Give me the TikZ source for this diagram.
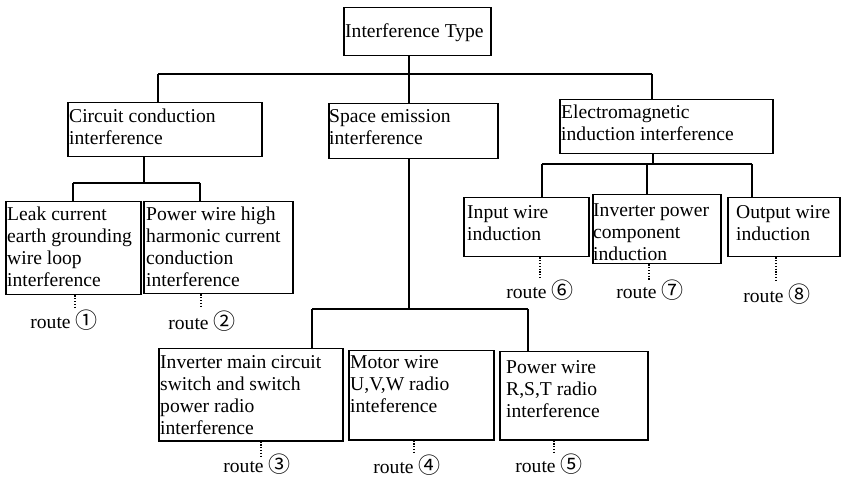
\documentclass[tikz,border=0pt]{standalone}
\usepackage{fontspec}
\setmainfont{Liberation Serif}
\newfontfamily\cjk{Noto Sans CJK SC}[Scale=1.0]
\newcommand\rt[1]{route\ {\cjk\fontsize{22}{22}\selectfont #1}}
\begin{document}
\begin{tikzpicture}[x=1pt,y=-1pt,
  bx/.style={draw, line width=1.5pt, inner sep=0pt, anchor=north west},
  tx/.style={inner sep=0pt, anchor=north west, align=left, font=\fontsize{19.6}{22}\selectfont},
  rtx/.style={inner sep=0pt, anchor=base, font=\fontsize{19.6}{22}\selectfont},
  ln/.style={line width=1.5pt},
  dl/.style={line width=1.3pt, dash pattern=on 1.2pt off 1.6pt}]
\useasboundingbox (0,0) rectangle (841,478);
% boxes
\node[bx, minimum width=147pt, minimum height=48pt] (it) at (343,7) {};
\node[bx, minimum width=194pt, minimum height=54pt] (cc) at (67,102) {};
\node[bx, minimum width=169pt, minimum height=55pt] (se) at (328,103) {};
\node[bx, minimum width=213pt, minimum height=54pt] (em) at (559,99) {};
\node[bx, minimum width=135pt, minimum height=93pt] (lk) at (5,201) {};
\node[bx, minimum width=149pt, minimum height=92pt] (pw) at (143,201) {};
\node[bx, minimum width=125pt, minimum height=59pt] (iw) at (463,197) {};
\node[bx, minimum width=128pt, minimum height=69pt] (ip) at (592,194) {};
\node[bx, minimum width=112pt, minimum height=59pt] (ow) at (727,197) {};
\node[bx, minimum width=184pt, minimum height=92pt] (im) at (158,348) {};
\node[bx, minimum width=145pt, minimum height=89pt] (mw) at (348,350) {};
\node[bx, minimum width=148pt, minimum height=88pt] (rs) at (499,351) {};
% texts
\node[tx] (it-t) at (345,21.8) {\strut Interference Type};
\node[tx] (cc-t) at (69,106.8) {\strut Circuit conduction\\interference};
\node[tx] (se-t) at (329,106.8) {\strut Space emission\\interference};
\node[tx] (em-t) at (561,102.8) {\strut Electromagnetic\\induction interference};
\node[tx] (lk-t) at (7,204.8) {\strut Leak current\\earth grounding\\wire loop\\interference};
\node[tx] (pw-t) at (146,204.8) {\strut Power wire high\\harmonic current\\conduction\\interference};
\node[tx] (iw-t) at (467,202.8) {\strut Input wire\\induction};
\node[tx] (ip-t) at (593,200.8) {\strut Inverter power\\component\\induction};
\node[tx] (ow-t) at (736,202.8) {\strut Output wire\\induction};
\node[tx] (im-t) at (160,352.8) {\strut Inverter main circuit\\switch and switch\\power radio\\interference};
\node[tx] (mw-t) at (350,352.8) {\strut Motor wire\\U,V,W radio\\inteference};
\node[tx] (rs-t) at (506,357.8) {\strut Power wire\\R,S,T radio\\interference};
% tree connectors
\coordinate (j0) at (409,74);
\coordinate (ja) at (158,74);
\coordinate (jb) at (652,74);
\draw[ln] (it.south -| j0) -- (j0);
\draw[ln] (ja) -- (jb);
\draw[ln] (ja) -- (ja |- cc.north);
\draw[ln] (j0) -- (j0 |- se.north);
\draw[ln] (jb) -- (jb |- em.north);
% circuit conduction children
\coordinate (c0) at (144,183);
\coordinate (c1) at (73,183);
\coordinate (c2) at (200,183);
\draw[ln] (cc.south -| c0) -- (c0);
\draw[ln] (c1) -- (c2);
\draw[ln] (c1) -- (c1 |- lk.north);
\draw[ln] (c2) -- (c2 |- pw.north);
% electromagnetic children
\coordinate (e0) at (653,164);
\coordinate (e1) at (542,164);
\coordinate (e2) at (647,164);
\coordinate (e3) at (752,164);
\draw[ln] (em.south -| e0) -- (e0);
\draw[ln] (e1) -- (e3);
\draw[ln] (e1) -- (e1 |- iw.north);
\draw[ln] (e2) -- (e2 |- ip.north);
\draw[ln] (e3) -- (e3 |- ow.north);
% space emission children
\coordinate (s0) at (409,309);
\coordinate (s1) at (312,309);
\coordinate (s2) at (528,309);
\draw[ln] (se.south -| s0) -- (s0);
\draw[ln] (s1) -- (s2);
\draw[ln] (s1) -- (s1 |- im.north);
\draw[ln] (s2) -- (s2 |- rs.north);
% routes
\node[rtx] (r1) at (64,329) {\rt{①}};
\node[rtx] (r2) at (202,330) {\rt{②}};
\node[rtx] (r3) at (257,472) {\rt{③}};
\node[rtx] (r4) at (407,473) {\rt{④}};
\node[rtx] (r5) at (549,472) {\rt{⑤}};
\node[rtx] (r6) at (540,299) {\rt{⑥}};
\node[rtx] (r7) at (650,299) {\rt{⑦}};
\node[rtx] (r8) at (777,303) {\rt{⑧}};
\coordinate (d1) at (75,307);
\coordinate (d2) at (201,307);
\coordinate (d3) at (261,457);
\coordinate (d4) at (414,454);
\coordinate (d5) at (554,453);
\coordinate (d6) at (540,278);
\coordinate (d7) at (649,281);
\coordinate (d8) at (776,281);
\draw[dl] (lk.south -| d1) -- (d1);
\draw[dl] (pw.south -| d2) -- (d2);
\draw[dl] (im.south -| d3) -- (d3);
\draw[dl] (mw.south -| d4) -- (d4);
\draw[dl] (rs.south -| d5) -- (d5);
\draw[dl] (iw.south -| d6) -- (d6);
\draw[dl] (ip.south -| d7) -- (d7);
\draw[dl] (ow.south -| d8) -- (d8);
\end{tikzpicture}
\end{document}
